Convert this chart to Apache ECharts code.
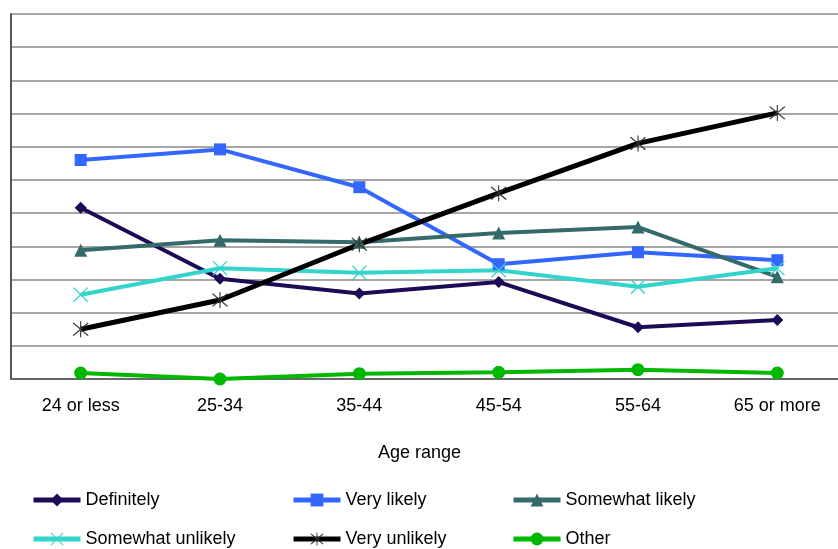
<!DOCTYPE html>
<html>
<head>
<meta charset="utf-8">
<script src="https://cdn.jsdelivr.net/npm/echarts@6/dist/echarts.min.js"></script>
<style>
  html, body { margin: 0; padding: 0; background: #ffffff; overflow: hidden; }
  #chart { width: 850px; height: 549px; }
</style>
</head>
<body>
<div id="chart"></div>
<script>
// Age range categories along the x axis
const ageRanges = ['24 or less', '25-34', '35-44', '45-54', '55-64', '65 or more'];

// Share of respondents per answer, by age range
const definitely      = [25.8, 15.1, 12.9, 14.6, 7.8, 8.9];
const veryLikely      = [33.0, 34.6, 28.9, 17.3, 19.1, 17.9];
const somewhatLikely  = [19.4, 20.9, 20.6, 22.0, 22.9, 15.4];
const somewhatUnlikely= [12.7, 16.7, 16.0, 16.4, 13.9, 16.7];
const veryUnlikely    = [7.5, 11.9, 20.3, 28.0, 35.5, 40.1];
const other           = [0.9, 0.0, 0.8, 1.0, 1.4, 0.9];

const seriesNames = ['Definitely', 'Very likely', 'Somewhat likely',
                     'Somewhat unlikely', 'Very unlikely', 'Other'];

// Thin-stroked marker shapes built from filled bars
const crossPath = 'path://M0.6,0 L5,4.4 L9.4,0 L10,0.6 L5.6,5 L10,9.4 L9.4,10 L5,5.6 L0.6,10 L0,9.4 L4.4,5 L0,0.6 Z';
const starPath = 'path://M4.7,0 H5.3 V10 H4.7 Z M0.7,1.3 L1.2,0.8 L9.3,8.7 L8.8,9.2 Z M9.3,1.3 L8.8,0.8 L0.7,8.7 L1.2,9.2 Z';

const font = 'Liberation Sans, Arial, sans-serif';

function lineSeries(name, data, color, symbol, size, width, symbolColor) {
  return {
    name: name,
    type: 'line',
    data: data,
    symbol: symbol,
    symbolSize: size,
    showAllSymbol: true,
    lineStyle: { color: color, width: width },
    itemStyle: { color: symbolColor || color },
    emphasis: { disabled: true },
    animation: false,
    z: 3
  };
}

const chart = echarts.init(document.getElementById('chart'));

const legendLefts = [31, 291, 511, 31, 291, 511];
const legendTops = [491, 491, 491, 530, 530, 530];

chart.setOption({
  backgroundColor: '#ffffff',
  animation: false,
  grid: { left: 11, top: 14, right: 3, bottom: 170, containLabel: false },
  xAxis: {
    type: 'category',
    data: ageRanges,
    boundaryGap: true,
    axisLine: { show: true, lineStyle: { color: '#666666', width: 2 } },
    axisTick: { show: false },
    axisLabel: { margin: 18, color: '#000', fontSize: 18, fontFamily: font },
    name: 'Age range',
    nameLocation: 'middle',
    nameGap: 65,
    nameTextStyle: { color: '#000', fontSize: 18, fontFamily: font, padding: [0, 19, 0, 0] },
    splitLine: { show: false }
  },
  yAxis: {
    type: 'value',
    min: 0,
    max: 55,
    interval: 5,
    axisLine: { show: true, lineStyle: { color: '#555555', width: 2 } },
    axisTick: { show: false },
    axisLabel: { show: false },
    splitLine: { show: true, lineStyle: { color: '#a6a6a6', width: 2 } }
  },
  legend: seriesNames.map(function (n, i) {
    return {
      data: [n],
      left: legendLefts[i],
      top: legendTops[i],
      padding: 0,
      itemWidth: 47,
      itemHeight: 16,
      lineStyle: { width: 5 },
      textStyle: { color: '#000', fontSize: 18, fontFamily: font },
      selectedMode: false
    };
  }),
  series: [
    lineSeries('Definitely', definitely, '#1e0b55', 'diamond', 12, 4),
    lineSeries('Very likely', veryLikely, '#3366ff', 'rect', 12, 4),
    lineSeries('Somewhat likely', somewhatLikely, '#346a6a', 'triangle', 13, 4),
    lineSeries('Somewhat unlikely', somewhatUnlikely, '#33d4cc', crossPath, 15, 4),
    lineSeries('Very unlikely', veryUnlikely, '#000000', starPath, 16, 5, '#333333'),
    lineSeries('Other', other, '#00b800', 'circle', 13, 4)
  ]
});
</script>
</body>
</html>
